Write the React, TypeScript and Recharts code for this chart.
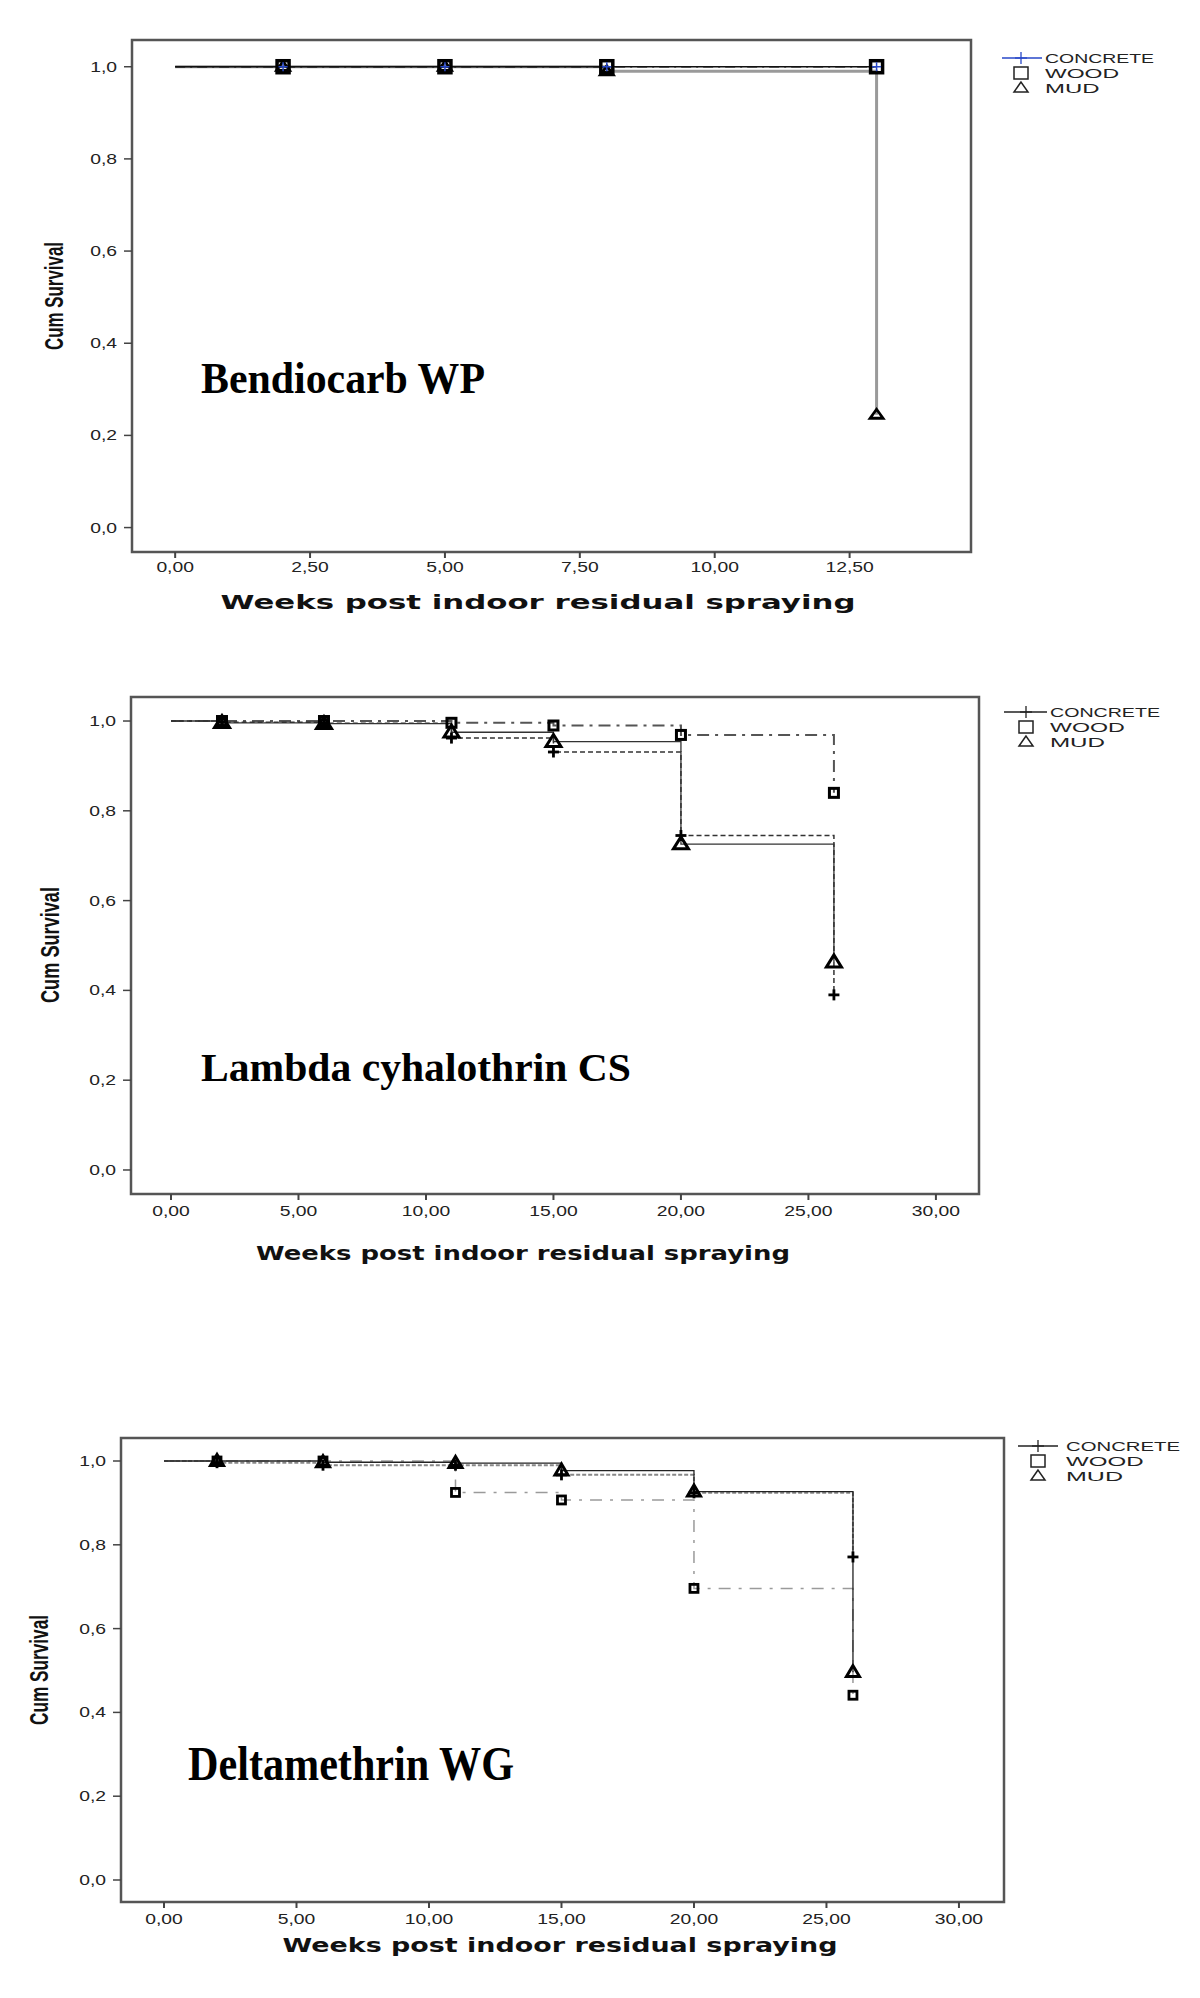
import React from 'react';
import { LineChart, Line, XAxis, YAxis, ReferenceArea } from 'recharts';

// ---------- data ----------
const bendioWeeks = [0, 2, 5, 8, 13];
const bendioConcrete = [1, 1, 1, 1, 1];
const bendioWood = [1, 1, 1, 1, 1];
const bendioMud = [1, 1, 1, 0.99, 0.245];

const lambdaWeeks = [0, 2, 6, 11, 15, 20, 26];
const lambdaConcrete = [1, 0.997, 0.995, 0.962, 0.931, 0.745, 0.39];
const lambdaWood = [1, 1, 1, 0.996, 0.99, 0.969, 0.84];
const lambdaMud = [1, 0.996, 0.994, 0.975, 0.954, 0.726, 0.463];

const deltaWeeks = [0, 2, 6, 11, 15, 20, 26];
const deltaConcrete = [1, 0.996, 0.99, 0.99, 0.967, 0.924, 0.771];
const deltaWood = [1, 1, 1, 0.925, 0.907, 0.696, 0.441];
const deltaMud = [1, 1, 0.997, 0.995, 0.977, 0.927, 0.496];

const xTicksBendio = [0, 2.5, 5, 7.5, 10, 12.5];
const xTicks30 = [0, 5, 10, 15, 20, 25, 30];
const yTicks = [0, 0.2, 0.4, 0.6, 0.8, 1.0];

const legendLabels = ['CONCRETE', 'WOOD', 'MUD'];
const titles = ['Bendiocarb WP', 'Lambda cyhalothrin CS', 'Deltamethrin WG'];
const xTitle = 'Weeks post indoor residual spraying';
const yTitle = 'Cum Survival';

const build = (weeks: number[], c: number[], w: number[], m: number[]) =>
  weeks.map((t, i) => ({ t, concrete: c[i], wood: w[i], mud: m[i] }));

const bendioData = build(bendioWeeks, bendioConcrete, bendioWood, bendioMud);
const lambdaData = build(lambdaWeeks, lambdaConcrete, lambdaWood, lambdaMud);
const deltaData = build(deltaWeeks, deltaConcrete, deltaWood, deltaMud);

const fmtX = (v: number) => v.toFixed(2).replace('.', ',');
const fmtY = (v: number) => v.toFixed(1).replace('.', ',');

// ---------- markers ----------
type MOpt = { size: number; color: string; sw: number; w?: number; h?: number; fill?: string };

const drawMarker = (kind: string, cx: number, cy: number, o: MOpt, key?: string) => {
  if (kind === 'cross') {
    const s = o.size / 2;
    return (
      <g key={key}>
        <line x1={cx - s} y1={cy} x2={cx + s} y2={cy} stroke={o.color} strokeWidth={o.sw} />
        <line x1={cx} y1={cy - s} x2={cx} y2={cy + s} stroke={o.color} strokeWidth={o.sw} />
      </g>
    );
  }
  if (kind === 'square') {
    const s = o.size;
    return (
      <rect key={key} x={cx - s / 2} y={cy - s / 2} width={s} height={s} fill={o.fill ?? 'none'} stroke={o.color} strokeWidth={o.sw} />
    );
  }
  const w = o.w ?? 14;
  const h = o.h ?? 11;
  const pts = `${cx},${cy - h * 0.6} ${cx - w / 2},${cy + h * 0.4} ${cx + w / 2},${cy + h * 0.4}`;
  return <polygon key={key} points={pts} fill={o.fill ?? 'none'} stroke={o.color} strokeWidth={o.sw} strokeLinejoin="miter" />;
};

const makeDot = (kind: string, o: MOpt) => (props: any) => {
  const { cx, cy, index } = props;
  const key = `${kind}-${index}`;
  if (index === 0 || cx == null || cy == null) return <g key={key} />;
  return drawMarker(kind, cx, cy, o, key);
};

// ---------- ticks ----------
const XTick = (props: any) => {
  const { x, y, payload, dy } = props;
  return (
    <g transform={`translate(${x},${y})`}>
      <text x={0} y={0} dy={dy} textAnchor="middle" fontSize={14} fontFamily="'Liberation Sans', Arial, sans-serif" fill="#222" transform="scale(1.38,1)">
        {fmtX(payload.value)}
      </text>
    </g>
  );
};

const YTick = (props: any) => {
  const { x, y, payload } = props;
  return (
    <g transform={`translate(${x - 5},${y})`}>
      <text x={0} y={0} dy={5} textAnchor="end" fontSize={14} fontFamily="'Liberation Sans', Arial, sans-serif" fill="#222" transform="scale(1.38,1)">
        {fmtY(payload.value)}
      </text>
    </g>
  );
};

type SeriesSpec = {
  key: string;
  stroke: string;
  width: number;
  dash?: string;
  marker: string;
  mopt: MOpt;
};

type ChartSpec = {
  top: number;
  height: number;
  data: any[];
  margin: { top: number; right: number; bottom: number; left: number };
  xDomain: [number, number];
  yDomain: [number, number];
  xTicks: number[];
  tickDy: number;
  series: SeriesSpec[];
};

const KMChart = ({ spec }: { spec: ChartSpec }) => (
  <div style={{ position: 'absolute', left: 0, top: spec.top, width: 1200, height: spec.height }}>
    <LineChart width={1200} height={spec.height} data={spec.data} margin={spec.margin}>
      <XAxis
        dataKey="t"
        type="number"
        domain={spec.xDomain}
        ticks={spec.xTicks}
        allowDataOverflow
        axisLine={false}
        tickLine={{ stroke: '#444', strokeWidth: 2 }}
        tickSize={6}
        height={30}
        tick={(p: any) => <XTick {...p} dy={spec.tickDy} />}
        interval={0}
      />
      <YAxis
        type="number"
        domain={spec.yDomain}
        ticks={yTicks}
        allowDataOverflow
        axisLine={false}
        tickLine={{ stroke: '#444', strokeWidth: 1.5 }}
        tickSize={8}
        width={60}
        tick={(p: any) => <YTick {...p} />}
        interval={0}
      />
      <ReferenceArea
        x1={spec.xDomain[0]}
        x2={spec.xDomain[1]}
        y1={spec.yDomain[0]}
        y2={spec.yDomain[1]}
        fill="none"
        fillOpacity={0}
        stroke="#555"
        strokeWidth={2.5}
        ifOverflow="visible"
      />
      {spec.series.map((s) => (
        <Line
          key={s.key}
          dataKey={s.key}
          type="stepAfter"
          stroke={s.stroke}
          strokeWidth={s.width}
          strokeDasharray={s.dash}
          dot={makeDot(s.marker, s.mopt)}
          activeDot={false}
          isAnimationActive={false}
          legendType="none"
        />
      ))}
    </LineChart>
  </div>
);

const blk = (size: number, sw: number, w?: number, h?: number): MOpt => ({ size, color: '#000', sw, w, h });

const chart1: ChartSpec = {
  top: 0,
  height: 620,
  data: bendioData,
  margin: { top: 40, right: 229, bottom: 38, left: 72 },
  xDomain: [-0.8, 14.75],
  yDomain: [-0.053, 1.058],
  xTicks: xTicksBendio,
  tickDy: 12,
  series: [
    { key: 'mud', stroke: '#9a9a9a', width: 3, marker: 'triangle', mopt: blk(10, 2.8, 13, 9) },
    { key: 'wood', stroke: '#111', width: 1.5, dash: '10 5 2 5', marker: 'square', mopt: blk(12, 3.5) },
    { key: 'concrete', stroke: '#111', width: 1.3, marker: 'cross', mopt: { size: 9, color: '#2848c8', sw: 1.5 } },
  ],
};

const chart2: ChartSpec = {
  top: 680,
  height: 620,
  data: lambdaData,
  margin: { top: 17, right: 221, bottom: 76, left: 71 },
  xDomain: [-1.569, 31.69],
  yDomain: [-0.0535, 1.0535],
  xTicks: xTicks30,
  tickDy: 14,
  series: [
    { key: 'wood', stroke: '#555', width: 2, dash: '12 6 3 6', marker: 'square', mopt: blk(9, 3) },
    { key: 'concrete', stroke: '#333', width: 1.5, dash: '5 3', marker: 'cross', mopt: blk(11, 2.8) },
    { key: 'mud', stroke: '#333', width: 1.3, marker: 'triangle', mopt: blk(10, 3, 15, 12) },
  ],
};

const chart3: ChartSpec = {
  top: 1400,
  height: 598,
  data: deltaData,
  margin: { top: 38, right: 196, bottom: 66, left: 61 },
  xDomain: [-1.623, 31.7],
  yDomain: [-0.0525, 1.0549],
  xTicks: xTicks30,
  tickDy: 14,
  series: [
    { key: 'wood', stroke: '#9a9a9a', width: 1.5, dash: '12 8 3 8', marker: 'square', mopt: blk(8, 2.8) },
    { key: 'concrete', stroke: '#888', width: 2, dash: '4 2', marker: 'cross', mopt: blk(11, 2.8) },
    { key: 'mud', stroke: '#222', width: 1.3, marker: 'triangle', mopt: blk(10, 3, 13, 11) },
  ],
};

// ---------- overlay text ----------
type Ov = {
  yl: { x: number; y: number; len: number };
  xl: { x: number; y: number; len: number };
  ann: { x: number; y: number; len: number; size: number };
  leg: { x1: number; x2: number; cx: number; tx: number; tlen: number; rows: number[]; lineColor: string; crossColor: string };
};

const overlays: Ov[] = [
  {
    yl: { x: 63, y: 296, len: 108 },
    xl: { x: 538, y: 609, len: 635 },
    ann: { x: 201, y: 393, len: 284, size: 45 },
    leg: { x1: 1002, x2: 1042, cx: 1021, tx: 1045, tlen: 109, rows: [58, 73, 88], lineColor: '#2848c8', crossColor: '#2848c8' },
  },
  {
    yl: { x: 59, y: 945, len: 116 },
    xl: { x: 523, y: 1260, len: 534 },
    ann: { x: 201, y: 1081, len: 430, size: 41 },
    leg: { x1: 1004, x2: 1047, cx: 1026, tx: 1050, tlen: 110, rows: [712, 727, 742], lineColor: '#222', crossColor: '#222' },
  },
  {
    yl: { x: 48, y: 1670, len: 110 },
    xl: { x: 560, y: 1952, len: 555 },
    ann: { x: 188, y: 1780, len: 326, size: 48 },
    leg: { x1: 1018, x2: 1058, cx: 1038, tx: 1066, tlen: 114, rows: [1446, 1461, 1476], lineColor: '#222', crossColor: '#222' },
  },
];

const Overlay = () => (
  <svg width={1200} height={1998} style={{ position: 'absolute', left: 0, top: 0, pointerEvents: 'none' }}>
    {overlays.map((o, i) => (
      <g key={i}>
        <text
          transform={`translate(${o.yl.x},${o.yl.y}) rotate(-90)`}
          textAnchor="middle"
          fontSize={26}
          fontWeight="bold"
          fontFamily="'Liberation Sans', Arial, sans-serif"
          fill="#111"
          textLength={o.yl.len}
          lengthAdjust="spacingAndGlyphs"
        >
          {yTitle}
        </text>
        <text
          x={o.xl.x}
          y={o.xl.y}
          textAnchor="middle"
          fontSize={20}
          fontWeight="bold"
          fontFamily="'DejaVu Sans', Verdana, sans-serif"
          fill="#111"
          textLength={o.xl.len}
          lengthAdjust="spacingAndGlyphs"
        >
          {xTitle}
        </text>
        <text
          x={o.ann.x}
          y={o.ann.y}
          fontSize={o.ann.size}
          fontWeight="bold"
          fontFamily="'Liberation Serif', 'Times New Roman', serif"
          fill="#000"
          textLength={o.ann.len}
          lengthAdjust="spacingAndGlyphs"
        >
          {titles[i]}
        </text>
        <line x1={o.leg.x1} y1={o.leg.rows[0]} x2={o.leg.x2} y2={o.leg.rows[0]} stroke={o.leg.lineColor} strokeWidth={1.3} />
        {drawMarker('cross', o.leg.cx, o.leg.rows[0], { size: 12, color: o.leg.crossColor, sw: 1.3 })}
        <rect x={o.leg.cx - 7} y={o.leg.rows[1] - 6} width={14} height={12} fill="#fff" stroke="#222" strokeWidth={1.5} />
        <polygon
          points={`${o.leg.cx},${o.leg.rows[2] - 6} ${o.leg.cx - 7},${o.leg.rows[2] + 4} ${o.leg.cx + 7},${o.leg.rows[2] + 4}`}
          fill="#fff"
          stroke="#222"
          strokeWidth={1.5}
        />
        {legendLabels.map((lab, j) => (
          <text
            key={lab}
            x={o.leg.tx}
            y={o.leg.rows[j] + 5}
            fontSize={13}
            fontFamily="'Liberation Sans', Arial, sans-serif"
            fill="#222"
            textLength={j === 0 ? o.leg.tlen : j === 1 ? o.leg.tlen * 0.68 : o.leg.tlen * 0.5}
            lengthAdjust="spacingAndGlyphs"
          >
            {lab}
          </text>
        ))}
      </g>
    ))}
  </svg>
);

export default function App() {
  return (
    <div style={{ position: 'absolute', left: 0, top: 0, width: 1200, height: 1998, background: '#fff' }}>
      <KMChart spec={chart1} />
      <KMChart spec={chart2} />
      <KMChart spec={chart3} />
      <Overlay />
    </div>
  );
}
